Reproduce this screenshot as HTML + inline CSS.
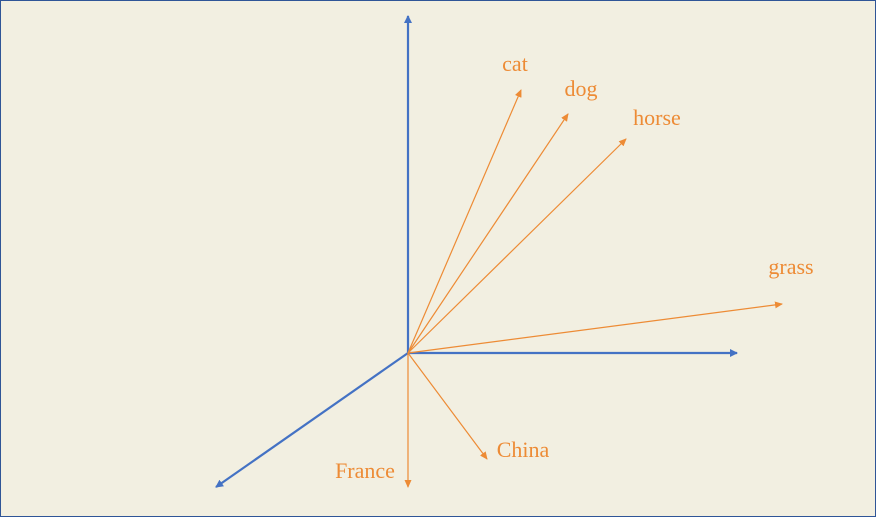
<!DOCTYPE html>
<html><head><meta charset="utf-8"><style>
html,body{margin:0;padding:0;background:#F2EFE1;}
svg{display:block;}
</style></head><body>
<svg id="chart" width="876" height="517" viewBox="0 0 876 517" xmlns="http://www.w3.org/2000/svg">
<defs>
<marker id="ab" markerWidth="8" markerHeight="8" refX="7" refY="4" orient="auto" markerUnits="userSpaceOnUse"><path d="M0,0 L8,4 L0,8 Z" fill="#4472C4"/></marker>
<marker id="ao" markerWidth="8" markerHeight="7" refX="7" refY="3.5" orient="auto" markerUnits="userSpaceOnUse"><path d="M0,0 L8,3.5 L0,7 Z" fill="#ED8B35"/></marker>
</defs>
<rect x="0.5" y="0.5" width="875" height="516" fill="#F2EFE1" stroke="#2F5597" stroke-width="1"/>
<g id="axes"></g>
<g id="vectors"></g>
</svg>
<script>
const originX = 408, originY = 353;
const axisNames = ['y-axis','x-axis','z-axis'];
const axisDX = [0, 329, -192];
const axisDY = [-337, 0, 134];
const words = ['cat','dog','horse','grass','China','France'];
const vecDX = [113, 160, 218, 374, 79, 0];
const vecDY = [-263, -239, -214, -49, 106, 134];
const labelX = [515, 581, 657, 791, 523, 365];
const labelY = [71, 96, 125, 274, 457, 478];
const NS='http://www.w3.org/2000/svg';
const ax=document.getElementById('axes'), vg=document.getElementById('vectors');
for(let i=0;i<axisNames.length;i++){
  const l=document.createElementNS(NS,'line');
  l.setAttribute('x1',originX);l.setAttribute('y1',originY);
  l.setAttribute('x2',originX+axisDX[i]);l.setAttribute('y2',originY+axisDY[i]);
  l.setAttribute('stroke','#4472C4');l.setAttribute('stroke-width','2.2');
  l.setAttribute('marker-end','url(#ab)');
  
  
  ax.appendChild(l);
}
for(let i=0;i<words.length;i++){
  const l=document.createElementNS(NS,'line');
  l.setAttribute('x1',originX);l.setAttribute('y1',originY);
  l.setAttribute('x2',originX+vecDX[i]);l.setAttribute('y2',originY+vecDY[i]);
  l.setAttribute('stroke','#ED8B35');l.setAttribute('stroke-width','1.2');
  l.setAttribute('marker-end','url(#ao)');
  
  
  vg.appendChild(l);
  const t=document.createElementNS(NS,'text');
  t.setAttribute('x',labelX[i]);t.setAttribute('y',labelY[i]);
  t.setAttribute('text-anchor','middle');
  t.setAttribute('font-family','"Liberation Serif", serif');
  t.setAttribute('font-size','22');t.setAttribute('fill','#ED8B35');
  t.textContent=words[i];
  
  
  vg.appendChild(t);
}
</script>
</body></html>
